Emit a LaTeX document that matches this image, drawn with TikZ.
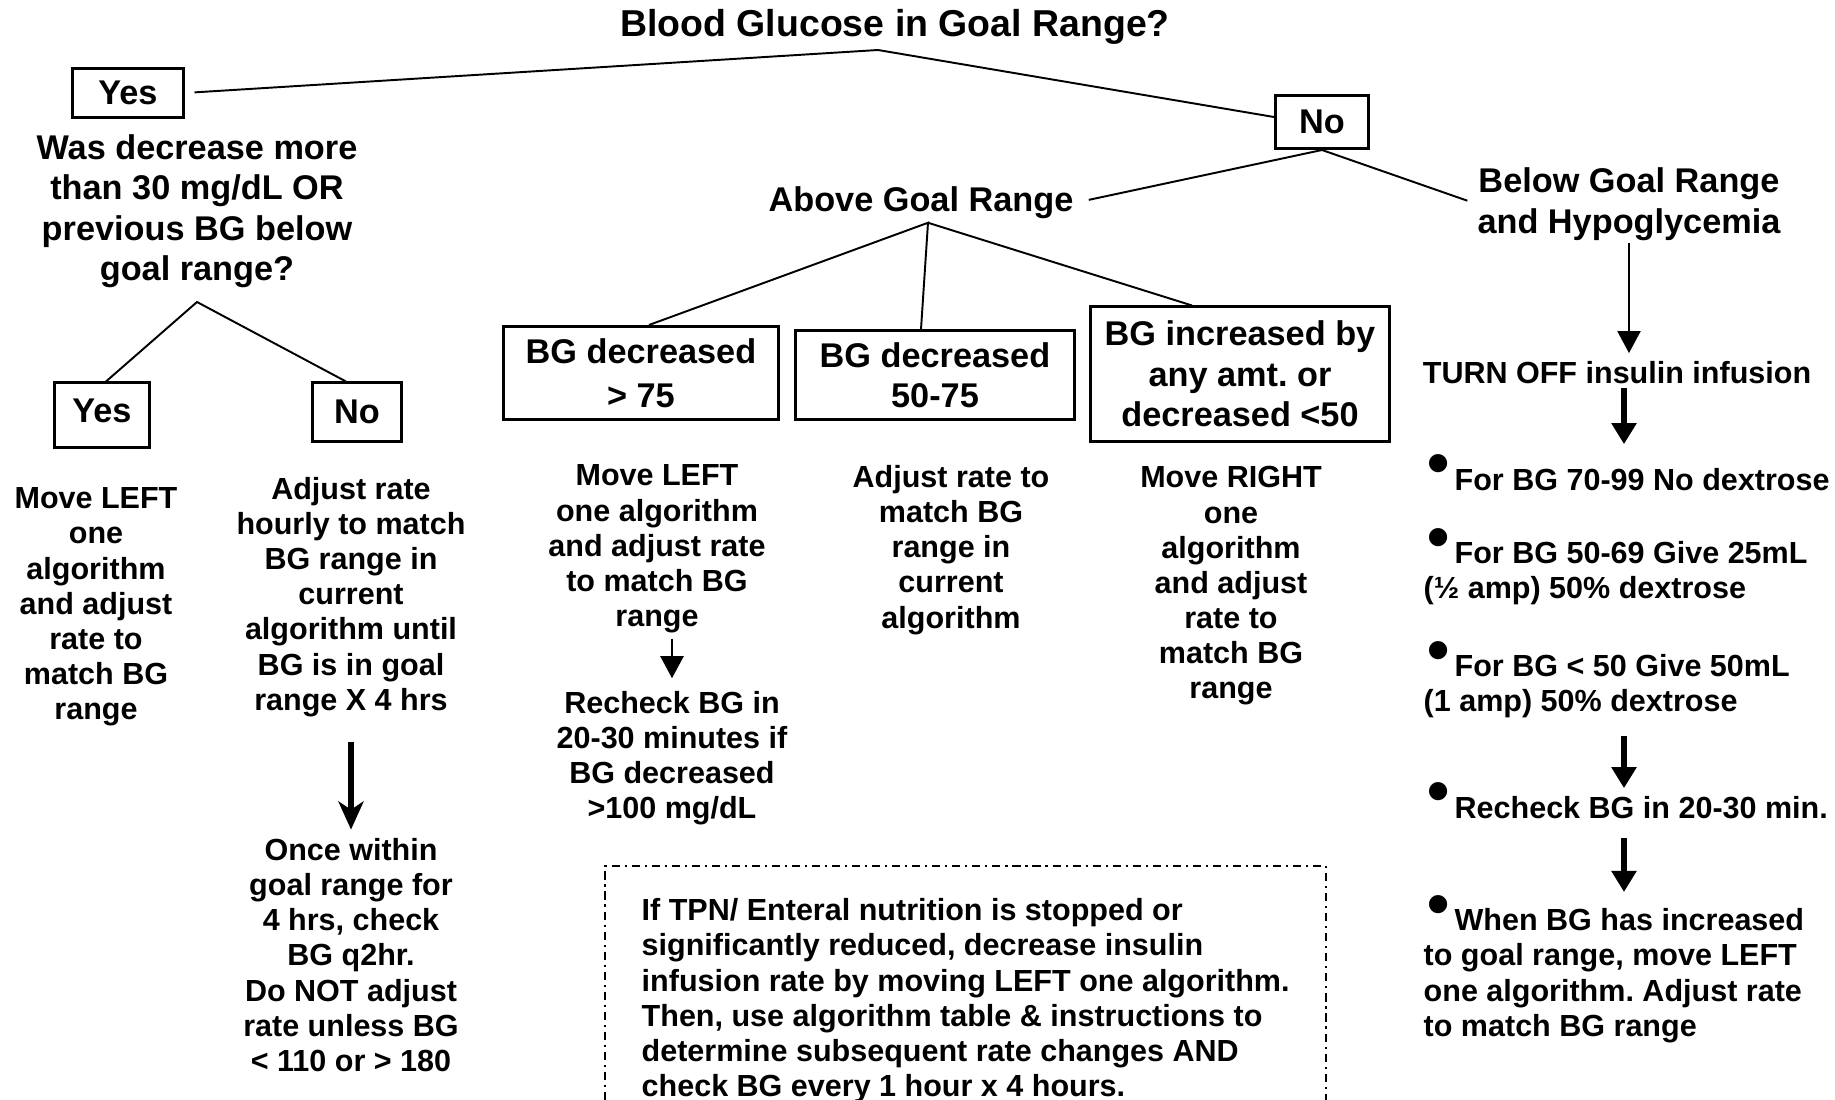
\documentclass[tikz,border=0pt]{standalone}
\usepackage{fontspec}
\setmainfont{Liberation Sans}
\usetikzlibrary{arrows.meta}
\newcommand{\blt}{\kern1pt\raisebox{1.5pt}[0pt][0pt]{\fontsize{18}{18}\selectfont\textbullet}\kern1.5pt}

\begin{document}
\frenchspacing
\begin{tikzpicture}[x=0.01cm, y=-0.01cm,
    title/.style={font=\bfseries\fontsize{10.65}{13}\selectfont, inner sep=0},
    head/.style={font=\bfseries\fontsize{9.75}{11.5}\selectfont, align=center, inner sep=0},
    body/.style={font=\bfseries\fontsize{8.68}{10}\selectfont, align=center, inner sep=0},
    lbody/.style={body, align=left},
    box/.style={head, draw, line width=0.85pt},
    link/.style={line width=0.55pt},
    thinarrow/.style={line width=0.6pt, -{Triangle[width=0.23cm,length=0.22cm]}},
    fatarrow/.style={line width=1.8pt, -{Triangle[width=0.24cm,length=0.21cm]}}]
    \useasboundingbox (0,0) rectangle (1835,1100);

    \node[title] (title) at (895,27) {Blood Glucose in Goal Range?};
    \node[box, minimum width=1.10cm, minimum height=0.48cm] (yesA) at (128,93) {Yes};
    \node[box, minimum width=0.93cm, minimum height=0.53cm] (noA) at (1322,122) {No};

    \node[head] (ask) at (197,211) {Was decrease more\\than 30 mg/dL OR\\previous BG below\\goal range?};
    \node[box, minimum width=0.94cm, minimum height=0.64cm, text depth=0.08cm] (yesB) at (102,415) {Yes};
    \node[box, minimum width=0.88cm, minimum height=0.58cm] (noB) at (357,412) {No};
    \node[body] (moveL) at (96,607) {Move LEFT\\one\\algorithm\\and adjust\\rate to\\match BG\\range};
    \node[body] (hourly) at (351,597) {Adjust rate\\hourly to match\\BG range in\\current\\algorithm until\\BG is in goal\\range X 4 hrs};
    \node[body] (once) at (351,955) {Once within\\goal range for\\4 hrs, check\\BG q2hr.\\Do NOT adjust\\rate unless BG\\< 110 or > 180};

    \node[head] (above) at (921,203) {Above Goal Range};
    \node[box, minimum width=2.74cm, minimum height=0.93cm] (dec75) at (641,373) {BG decreased\\[1pt]> 75};
    \node[box, minimum width=2.78cm, minimum height=0.88cm] (dec50) at (935,375) {BG decreased\\50-75};
    \node[box, minimum width=2.99cm, minimum height=1.34cm] (inc) at (1240,374) {BG increased by\\any amt. or\\decreased <50};
    \node[body] (leftone) at (657,549) {Move LEFT\\one algorithm\\and adjust rate\\to match BG\\range};
    \node[body] (recheck) at (672,758) {Recheck BG in\\20-30 minutes if\\BG decreased\\>100 mg/dL};
    \node[body] (keep) at (951,550) {Adjust rate to\\match BG\\range in\\current\\algorithm};
    \node[body] (rightone) at (1231,586) {Move RIGHT\\one\\algorithm\\and adjust\\rate to\\match BG\\range};

    \node[head] (below) at (1629,204) {Below Goal Range\\and Hypoglycemia};
    \node[body] (off) at (1617,373) {TURN OFF insulin infusion};
    \node[lbody, anchor=base west] (dA) at (1423,490) {\blt For BG 70-99 No dextrose};
    \node[lbody, anchor=north west] (dB) at (1423,541) {\blt For BG 50-69 Give 25mL\\(½ amp) 50\% dextrose};
    \node[lbody, anchor=north west] (dC) at (1423,654) {\blt For BG < 50 Give 50mL\\(1 amp) 50\% dextrose};
    \node[lbody, anchor=base west] (dD) at (1423,818) {\blt Recheck BG in 20-30 min.};
    \node[lbody, anchor=north west] (dE) at (1423,908) {\blt When BG has increased\\to goal range, move LEFT\\one algorithm. Adjust rate\\to match BG range};

    \draw[line width=0.5pt, dash pattern=on 2.3pt off 1.4pt on 0.6pt off 1.4pt] (605,1100) |- (1326,866) -- (1326,1100);
    \node[lbody, anchor=north west] (tpn) at (641,898) {If TPN/ Enteral nutrition is stopped or\\significantly reduced, decrease insulin\\infusion rate by moving LEFT one algorithm.\\Then, use algorithm table \& instructions to\\determine subsequent rate changes AND\\check BG every 1 hour x 4 hours.};

    \coordinate (tj) at (878,50);
    \coordinate (qj) at (197,302);
    \coordinate (aj) at ([xshift=0.07cm,yshift=-0.03cm]above.south);
    \coordinate (rcol) at (1624,0);

    \draw[link, shorten >=0.1cm] (tj) -- (yesA.east);
    \draw[link] (tj) -- ([yshift=0.05cm]noA.west);
    \draw[link, shorten >=0.15cm] (noA.south) -- (above.east);
    \draw[link, shorten >=0.1cm] (noA.south) -- (below.west);
    \draw[link] ([xshift=0.04cm]yesB.north) -- (qj) -- ([xshift=-0.11cm]noB.north);
    \draw[link] ([xshift=0.08cm]dec75.north) -- (aj) -- ([xshift=-0.14cm]dec50.north);
    \draw[link] (aj) -- ([xshift=-0.48cm]inc.north);

    \draw[line width=1.8pt, -{Stealth[width=0.25cm,length=0.28cm,inset=0.08cm]}, shorten <=0.24cm, shorten >=0.08cm] (hourly.south) -- (once.north);
    \draw[thinarrow, shorten <=0.05cm, shorten >=0.12cm] (leftone.south -| recheck.north) -- (recheck.north);
    \draw[thinarrow, shorten <=0.02cm, shorten >=0.08cm] (below.south) -- (below.south |- off.north);
    \draw[fatarrow, shorten <=0.03cm, shorten >=0.23cm] (off.south -| rcol) -- (dA.north -| rcol);
    \draw[fatarrow, shorten <=0.17cm, shorten >=0.07cm] (dC.south -| rcol) -- (dD.north -| rcol);
    \draw[fatarrow, shorten <=0.19cm, shorten >=0.16cm] (dD.south -| rcol) -- (dE.north -| rcol);
\end{tikzpicture}
\end{document}
